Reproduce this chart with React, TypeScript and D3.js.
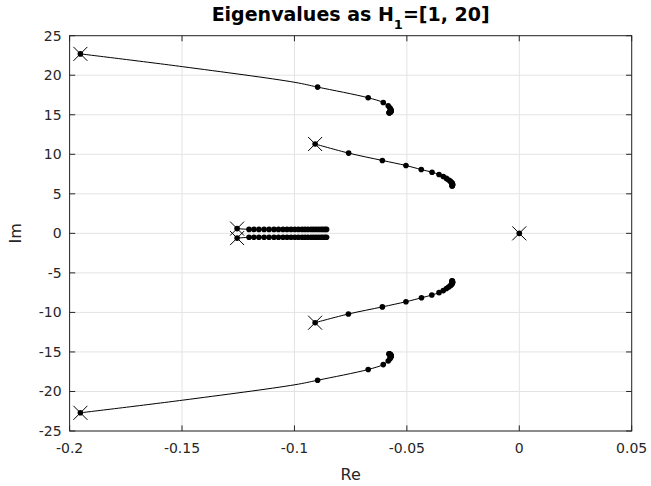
import React from "react";
import * as d3 from "d3";

// ---- data ----
const xTicks = [-0.2, -0.15, -0.1, -0.05, 0, 0.05];
const xTickLabels = ["-0.2", "-0.15", "-0.1", "-0.05", "0", "0.05"];
const yTicks = [-25, -20, -15, -10, -5, 0, 5, 10, 15, 20, 25];
const yTickLabels = ["-25", "-20", "-15", "-10", "-5", "0", "5", "10", "15", "20", "25"];

// starting eigenvalues (X markers): [Re, Im]
const startPoints: [number, number][] = [
  [-0.1952, 22.7],
  [-0.0908, 11.3],
  [-0.1255, 0.6],
  [-0.1255, -0.6],
  [-0.0908, -11.3],
  [-0.1952, -22.7],
  [0, 0],
];

// upper outer branch
const upperOuterLine: [number, number][] = [
  [-0.1952, 22.7], [-0.1497, 21.08], [-0.0998, 19.1],
];
const upperOuterDots: [number, number][] = [
  [-0.1952, 22.7],
  [-0.0897, 18.5], [-0.0672, 17.15], [-0.0605, 16.55], [-0.0583, 16.13],
  [-0.0576, 15.88], [-0.0573, 15.72], [-0.0571, 15.61], [-0.057, 15.53],
  [-0.057, 15.47], [-0.0571, 15.42], [-0.0572, 15.38], [-0.0573, 15.35],
  [-0.0574, 15.33], [-0.0575, 15.31], [-0.0576, 15.29], [-0.0577, 15.28],
  [-0.0578, 15.27], [-0.0578, 15.26], [-0.0579, 15.25],
];

// upper middle branch
const upperMiddleDots: [number, number][] = [
  [-0.0908, 11.3],
  [-0.0759, 10.15], [-0.0609, 9.22], [-0.0504, 8.58], [-0.0436, 8.07],
  [-0.0388, 7.73], [-0.0357, 7.45], [-0.0338, 7.2], [-0.0324, 6.95],
  [-0.0314, 6.75], [-0.0307, 6.6], [-0.0302, 6.47], [-0.0299, 6.37],
  [-0.0298, 6.29], [-0.0297, 6.22], [-0.0297, 6.16], [-0.0297, 6.11],
  [-0.0298, 6.07], [-0.0298, 6.03], [-0.0299, 6.0],
];

// lower middle branch
const lowerMiddleDots: [number, number][] = [
  [-0.0908, -11.3],
  [-0.0760, -10.2], [-0.0609, -9.3], [-0.0504, -8.65], [-0.0435, -8.15],
  [-0.0389, -7.8], [-0.0357, -7.5], [-0.0338, -7.24], [-0.0324, -6.98],
  [-0.0314, -6.78], [-0.0307, -6.62], [-0.0302, -6.49], [-0.0299, -6.38],
  [-0.0298, -6.3], [-0.0297, -6.23], [-0.0297, -6.17], [-0.0297, -6.12],
  [-0.0298, -6.08], [-0.0298, -6.04], [-0.0299, -6.0],
];

// lower outer branch
const lowerOuterLine: [number, number][] = [
  [-0.1952, -22.7], [-0.1497, -21.1], [-0.0998, -19.15],
];
const lowerOuterDots: [number, number][] = [
  [-0.1952, -22.7],
  [-0.0897, -18.58], [-0.0672, -17.22], [-0.0605, -16.6], [-0.0583, -16.15],
  [-0.0576, -15.9], [-0.0573, -15.73], [-0.0571, -15.62], [-0.057, -15.54],
  [-0.057, -15.48], [-0.0571, -15.43], [-0.0572, -15.39], [-0.0573, -15.36],
  [-0.0574, -15.33], [-0.0575, -15.31], [-0.0576, -15.29], [-0.0577, -15.28],
  [-0.0578, -15.27], [-0.0578, -15.26], [-0.0579, -15.25],
];

// near-real pair (two rows)
const upperInnerDots: [number, number][] = [
  [-0.1255, 0.6],
  [-0.1202, 0.5], [-0.118, 0.5], [-0.1158, 0.5], [-0.1135, 0.5], [-0.1113, 0.5],
  [-0.1091, 0.5], [-0.1071, 0.5], [-0.1051, 0.5], [-0.1033, 0.5], [-0.1015, 0.5],
  [-0.0998, 0.5], [-0.0982, 0.5], [-0.0966, 0.5], [-0.0953, 0.5], [-0.094, 0.5],
  [-0.0926, 0.5], [-0.0915, 0.5], [-0.0904, 0.5], [-0.0893, 0.5], [-0.0882, 0.5],
  [-0.0873, 0.5], [-0.0864, 0.5], [-0.0857, 0.5],
];
const lowerInnerDots: [number, number][] = [
  [-0.1255, -0.6],
  [-0.1202, -0.5], [-0.118, -0.5], [-0.1158, -0.5], [-0.1135, -0.5], [-0.1113, -0.5],
  [-0.1091, -0.5], [-0.1071, -0.5], [-0.1051, -0.5], [-0.1033, -0.5], [-0.1015, -0.5],
  [-0.0998, -0.5], [-0.0982, -0.5], [-0.0966, -0.5], [-0.0953, -0.5], [-0.094, -0.5],
  [-0.0926, -0.5], [-0.0915, -0.5], [-0.0904, -0.5], [-0.0893, -0.5], [-0.0882, -0.5],
  [-0.0873, -0.5], [-0.0864, -0.5], [-0.0857, -0.5],
];

const originDots: [number, number][] = [[0, 0]];

const W = 651;
const H = 486;
const L = 69.6, R = 631.7, T = 35.7, B = 431;
const AX = "#262626";
const GRID = "#e3e3e3";
const FONT = "DejaVu Sans, Liberation Sans, sans-serif";

export default function App() {
  const x = d3.scaleLinear().domain([-0.2, 0.05]).range([L, R]);
  const y = d3.scaleLinear().domain([-25, 25]).range([B, T]);

  const line = d3
    .line<[number, number]>()
    .x((d) => x(d[0]))
    .y((d) => y(d[1]))
    .curve(d3.curveCatmullRom.alpha(0.5));

  const mergeLine = (pre: [number, number][], dots: [number, number][]) =>
    [...pre, ...dots.slice(1)];

  const paths: [number, number][][] = [
    mergeLine(upperOuterLine, upperOuterDots),
    upperMiddleDots,
    upperInnerDots,
    lowerInnerDots,
    lowerMiddleDots,
    mergeLine(lowerOuterLine, lowerOuterDots),
  ];
  const dotSets = [
    upperOuterDots, upperMiddleDots, upperInnerDots, lowerInnerDots,
    lowerMiddleDots, lowerOuterDots, originDots,
  ];
  const xs = 7;
  const tick = 5.6;

  return (
    <svg
      width={W}
      height={H}
      style={{ position: "absolute", left: 0, top: 0, background: "#fff" }}
    >
      <rect x={0} y={0} width={W} height={H} fill="#fff" />
      {/* grid */}
      {xTicks.map((t) => (
        <line key={"gx" + t} x1={x(t)} x2={x(t)} y1={T} y2={B} stroke={GRID} strokeWidth={1} />
      ))}
      {yTicks.map((t) => (
        <line key={"gy" + t} x1={L} x2={R} y1={y(t)} y2={y(t)} stroke={GRID} strokeWidth={1} />
      ))}
      {/* box */}
      <rect x={L} y={T} width={R - L} height={B - T} fill="none" stroke={AX} strokeWidth={1} />
      {/* ticks */}
      {xTicks.map((t) => (
        <g key={"tx" + t}>
          <line x1={x(t)} x2={x(t)} y1={B} y2={B - tick} stroke={AX} />
          <line x1={x(t)} x2={x(t)} y1={T} y2={T + tick} stroke={AX} />
        </g>
      ))}
      {yTicks.map((t) => (
        <g key={"ty" + t}>
          <line x1={L} x2={L + tick} y1={y(t)} y2={y(t)} stroke={AX} />
          <line x1={R} x2={R - tick} y1={y(t)} y2={y(t)} stroke={AX} />
        </g>
      ))}
      {/* tick labels */}
      {xTicks.map((t, i) => (
        <text key={"lx" + t} x={x(t)} y={B + 22} textAnchor="middle" fontFamily={FONT} fontSize={14} fill={AX}>
          {xTickLabels[i]}
        </text>
      ))}
      {yTicks.map((t, i) => (
        <text key={"ly" + t} x={L - 8} y={y(t) + 5} textAnchor="end" fontFamily={FONT} fontSize={14} fill={AX}>
          {yTickLabels[i]}
        </text>
      ))}
      {/* axis labels */}
      <text x={(L + R) / 2} y={480} textAnchor="middle" fontFamily={FONT} fontSize={16} fill={AX}>
        Re
      </text>
      <text
        transform={`translate(21,${(T + B) / 2}) rotate(-90)`}
        textAnchor="middle"
        fontFamily={FONT}
        fontSize={16}
        fill={AX}
      >
        Im
      </text>
      {/* title */}
      <text x={(L + R) / 2} y={21} textAnchor="middle" fontFamily={FONT} fontSize={19} fontWeight="bold" fill="#000">
        Eigenvalues as H
        <tspan dy={7.5} fontSize={13}>1</tspan>
        <tspan dy={-7.5}>=[1, 20]</tspan>
      </text>
      {/* locus lines */}
      {paths.map((p, i) => (
        <path key={"p" + i} d={line(p) || ""} fill="none" stroke="#000" strokeWidth={1} />
      ))}
      {/* dots */}
      {dotSets.map((set, i) =>
        set.map((d, j) => (
          <circle key={`d${i}-${j}`} cx={x(d[0])} cy={y(d[1])} r={2.8} fill="#000" />
        ))
      )}
      {/* start markers */}
      {startPoints.map((d, i) => (
        <g key={"x" + i} stroke="#000" strokeWidth={1}>
          <line x1={x(d[0]) - xs} x2={x(d[0]) + xs} y1={y(d[1]) - xs} y2={y(d[1]) + xs} />
          <line x1={x(d[0]) - xs} x2={x(d[0]) + xs} y1={y(d[1]) + xs} y2={y(d[1]) - xs} />
        </g>
      ))}
    </svg>
  );
}
